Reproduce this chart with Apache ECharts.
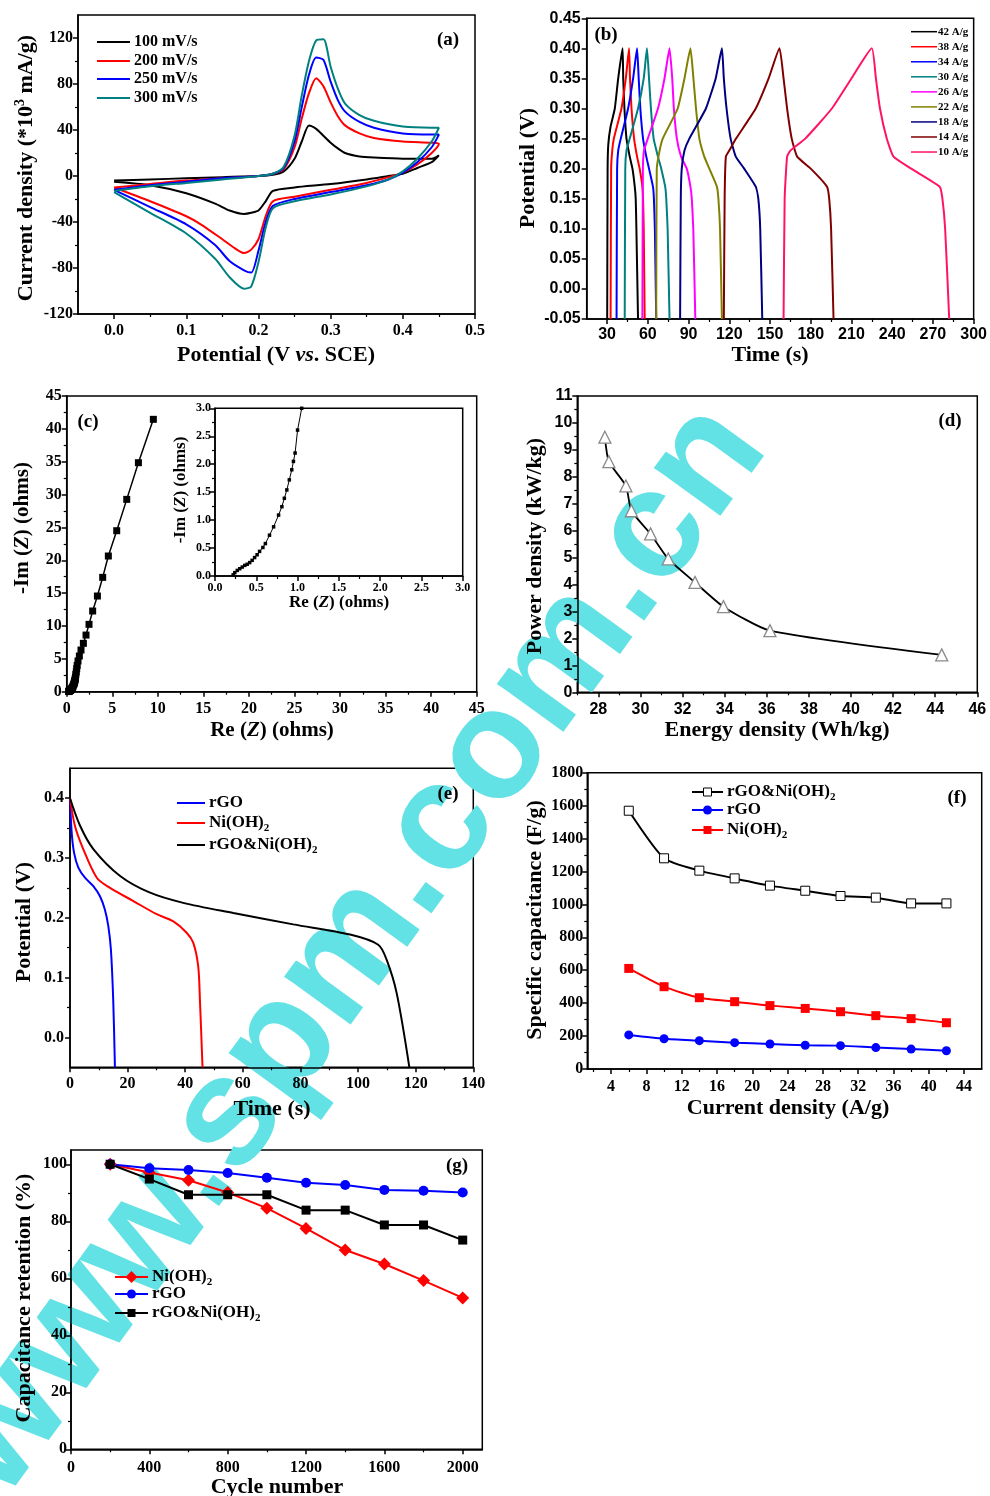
<!DOCTYPE html>
<html><head><meta charset="utf-8">
<script src="https://cdn.jsdelivr.net/npm/echarts@6/dist/echarts.min.js"></script>
<style>html,body{margin:0;padding:0;background:#fff}#c{width:990px;height:1496px}</style>
</head><body><div id="c"></div>
<script>
// ---------------- DATA ----------------
// (a) cyclic voltammetry: [potential V, current density *10^3 mA/g]
const cv100 = [[0,-4],[0.05,-3],[0.1,-2],[0.15,-1],[0.2,0],[0.22,1],[0.235,4],[0.25,15],[0.26,30],[0.27,44],[0.28,41],[0.29,35],[0.3,29],[0.31,24],[0.32,20],[0.34,17],[0.36,16],[0.4,15],[0.44,15],
  [0.45,18],[0.44,12],[0.42,7],[0.4,2],[0.38,0],[0.35,-3],[0.3,-7],[0.25,-10],[0.22,-13],[0.21,-22],[0.2,-30],[0.19,-32],[0.18,-33],[0.16,-30],[0.14,-24],[0.1,-15],[0.05,-8],[0,-5]];
const cv200 = [[0,-10],[0.05,-7],[0.1,-4],[0.15,-2],[0.2,0],[0.22,2],[0.235,6],[0.25,25],[0.26,50],[0.27,72],[0.28,85],[0.29,78],[0.3,64],[0.31,52],[0.32,44],[0.34,37],[0.36,33],[0.4,30],[0.44,29],
  [0.45,28],[0.44,20],[0.42,10],[0.4,3],[0.38,-1],[0.35,-6],[0.3,-12],[0.25,-18],[0.22,-22],[0.21,-35],[0.2,-55],[0.19,-64],[0.18,-67],[0.17,-64],[0.15,-55],[0.12,-42],[0.1,-35],[0.05,-22],[0,-10]];
const cv250 = [[0,-12],[0.05,-8],[0.1,-5],[0.15,-2],[0.2,0],[0.22,2],[0.235,7],[0.25,30],[0.26,60],[0.27,88],[0.28,103],[0.29,101],[0.3,82],[0.31,66],[0.32,56],[0.34,47],[0.36,42],[0.4,37],[0.44,36],
  [0.45,36],[0.44,25],[0.42,12],[0.4,3],[0.38,-3],[0.35,-8],[0.3,-14],[0.25,-20],[0.22,-26],[0.21,-40],[0.2,-65],[0.19,-84],[0.18,-82],[0.16,-74],[0.14,-60],[0.1,-42],[0.05,-27],[0,-12]];
const cv300 = [[0,-13],[0.05,-9],[0.1,-6],[0.15,-3],[0.2,0],[0.22,2],[0.235,8],[0.25,35],[0.26,70],[0.27,100],[0.28,118],[0.29,119],[0.3,95],[0.31,76],[0.32,63],[0.34,53],[0.36,48],[0.4,43],[0.44,42],
  [0.45,42],[0.44,30],[0.42,15],[0.4,4],[0.38,-3],[0.35,-9],[0.3,-16],[0.25,-22],[0.22,-28],[0.21,-45],[0.2,-75],[0.19,-96],[0.18,-98],[0.16,-88],[0.14,-72],[0.1,-50],[0.05,-32],[0,-14]];
const cvLabels = ['100 mV/s','200 mV/s','250 mV/s','300 mV/s'];

// (b) galvanostatic charge/discharge: [time s, potential V]
const gcd42 = [[30.1,-0.05],[30.4,0.20],[30.9,0.24],[32.6,0.27],[35.7,0.30],[38.2,0.35],[41.4,0.40],[41.9,0.35],[42.8,0.30],[44.3,0.25],[46.7,0.22],[48.7,0.20],[50.4,0.17],[51.1,0.15],[51.6,0.10],[52.8,-0.05]];
const gcd38 = [[32.6,-0.05],[33.0,0.20],[33.8,0.23],[35.0,0.25],[40.6,0.30],[43.8,0.35],[46.2,0.40],[46.9,0.35],[48.0,0.30],[49.9,0.25],[52.1,0.22],[54.0,0.20],[56.0,0.17],[56.5,0.15],[57.0,0.10],[57.7,-0.05]];
const gcd34 = [[37.0,-0.05],[37.4,0.20],[38.2,0.23],[40.1,0.25],[45.5,0.30],[49.2,0.35],[52.1,0.40],[53.3,0.35],[54.5,0.30],[56.5,0.25],[58.9,0.22],[60.9,0.20],[63.8,0.17],[64.5,0.15],[65.2,0.10],[66.2,-0.05]];
const gcd30 = [[43.0,-0.05],[43.4,0.20],[44.3,0.23],[46.7,0.25],[52.8,0.30],[57.0,0.35],[59.4,0.40],[60.9,0.35],[62.3,0.30],[64.3,0.25],[67.5,0.22],[69.9,0.20],[72.8,0.17],[73.6,0.15],[74.6,0.10],[76.0,-0.05]];
const gcd26 = [[56.0,-0.05],[56.4,0.20],[57.2,0.23],[60.0,0.25],[67.5,0.30],[72.3,0.35],[76.0,0.40],[78.0,0.35],[79.2,0.30],[81.4,0.25],[84.5,0.22],[88.7,0.20],[91.4,0.17],[92.4,0.15],[93.5,0.10],[95.0,-0.05]];
const gcd22 = [[66.2,-0.05],[66.6,0.20],[68.7,0.23],[71.0,0.25],[82.0,0.30],[87.0,0.35],[91.4,0.40],[93.6,0.35],[95.5,0.30],[98.0,0.25],[101.6,0.22],[105.3,0.20],[110.9,0.17],[112.0,0.15],[113.2,0.10],[114.6,-0.05]];
const gcd18 = [[83.8,-0.05],[84.3,0.15],[85.0,0.20],[87.0,0.23],[90.6,0.25],[102.8,0.30],[110.0,0.35],[114.6,0.40],[116.0,0.35],[118.0,0.30],[121.0,0.25],[124.8,0.22],[131.0,0.20],[139.5,0.17],[141.4,0.15],[142.8,0.10],[144.3,-0.05]];
const gcd14 = [[116.0,-0.05],[116.6,0.15],[117.5,0.22],[120.0,0.23],[125.0,0.25],[139.5,0.30],[149.0,0.35],[157.0,0.40],[160.0,0.35],[162.6,0.30],[166.0,0.25],[170.0,0.22],[180.0,0.20],[192.0,0.17],[193.6,0.15],[195.0,0.10],[196.8,-0.05]];
const gcd10 = [[160.0,-0.05],[160.8,0.15],[162.6,0.22],[165.0,0.23],[176.0,0.25],[195.6,0.30],[210.0,0.35],[225.0,0.40],[228.0,0.35],[231.0,0.30],[236.0,0.25],[241.0,0.22],[254.0,0.20],[275.0,0.17],[277.0,0.15],[279.0,0.10],[282.0,-0.05]];
const gcdLabels = ['42 A/g','38 A/g','34 A/g','30 A/g','26 A/g','22 A/g','18 A/g','14 A/g','10 A/g'];

// (c) Nyquist plot: [Re(Z) ohm, -Im(Z) ohm]
const eis = [[0.22,0.02],[0.24,0.06],[0.27,0.10],[0.30,0.13],[0.33,0.16],[0.36,0.19],[0.39,0.21],[0.42,0.24],[0.45,0.28],[0.48,0.33],[0.51,0.38],[0.54,0.44],[0.58,0.51],[0.61,0.58],[0.66,0.73],[0.71,0.88],[0.77,1.09],[0.81,1.24],[0.84,1.39],[0.87,1.54],[0.90,1.72],[0.93,1.90],[0.95,2.05],[0.97,2.20],[1.00,2.61],[1.05,3.00],[1.10,3.50],[1.15,4.00],[1.24,4.67],[1.39,5.43],[1.57,6.34],[1.83,7.36],[2.12,8.62],[2.45,10.25],[2.85,12.28],[3.37,14.56],[3.95,17.40],[4.57,20.65],[5.49,24.50],[6.59,29.27],[7.87,34.85],[9.51,41.45]];

// (d) Ragone plot
const energyDensity = [28.31,28.50,29.31,29.57,30.48,31.32,32.59,33.94,36.15,44.31];
const powerDensity  = [9.47,8.56,7.66,6.74,5.88,4.95,4.08,3.18,2.29,1.39];

// (e) discharge curves: [time s, potential V]
const disRGO = [[0,0.40],[0.58,0.343],[1.4,0.309],[2.9,0.284],[5.2,0.267],[8.1,0.253],[10.4,0.236],[12.1,0.214],[13.3,0.186],[14.2,0.147],[15.0,0.063],[15.6,-0.05]];
const disNi  = [[0,0.40],[1.7,0.354],[4.6,0.315],[9.3,0.267],[13.9,0.250],[22,0.228],[30.1,0.206],[35.9,0.194],[40.5,0.175],[42.8,0.158],[44.5,0.119],[45.1,0.063],[46.0,-0.05]];
const disComp = [[0,0.40],[3.5,0.354],[8.1,0.315],[17.4,0.270],[27.8,0.242],[39.3,0.225],[56.7,0.208],[77.5,0.189],[97.2,0.172],[107,0.155],[109.9,0.130],[113.4,0.074],[117.8,-0.05]];

// (f) specific capacitance vs current density
const currentDensity = [6,10,14,18,22,26,30,34,38,42];
const capComp = [1569,1280,1205,1158,1114,1083,1051,1041,1006,1006];
const capRGO  = [207,184,172,160,152,144,142,130,121,111];
const capNi   = [611,500,433,409,385,368,348,324,306,281];

// (g) cycling stability
const cycles = [200,400,600,800,1000,1200,1400,1600,1800,2000];
const retNi   = [100,97.1,94.4,90.1,84.6,77.5,69.9,65.0,59.2,53.1];
const retRGO  = [100,98.6,98.0,96.9,95.3,93.5,92.7,91.0,90.7,90.1];
const retComp = [100,94.8,89.3,89.3,89.3,83.9,83.9,78.7,78.7,73.4];

// ---------------- BUILD ----------------
const SERIF = '"Liberation Serif","Times New Roman",serif';
const SANS = '"Liberation Sans",Arial,sans-serif';
const option = {animation:false, backgroundColor:'#fff', grid:[], xAxis:[], yAxis:[], series:[], graphic:[]};

function axis(gi,pos,a,minor){
  const base = {type:'value', gridIndex:gi, position:pos, min:a.min, max:a.max, splitLine:{show:false}, silent:true};
  if (minor) {
    return Object.assign(base,{axisLine:{show:false,onZero:false}, axisLabel:{show:false},
      axisTick:{show:true, customValues:a.minors||[], length:3, lineStyle:{color:'#000',width:1.2}}});
  }
  return Object.assign(base,{
    axisLine:{show:true,onZero:false,lineStyle:{color:'#000',width:1.5}},
    axisTick:{show:true, customValues:a.majors, length:5, lineStyle:{color:'#000',width:1.5}},
    axisLabel:{customValues:a.majors, formatter:a.fmt||(v=>String(v)), color:'#000', fontFamily:a.font||SERIF,
      fontWeight:'bold', fontSize:a.size||16, margin:a.margin!=null?a.margin:6}
  });
}
function panel(g, xa, ya){
  const gi = option.grid.length;
  option.grid.push({left:g[0], top:g[1], width:g[2], height:g[3], show:true, borderColor:'#000', borderWidth:1.5, backgroundColor:'transparent'});
  const xi = option.xAxis.length;
  option.xAxis.push(axis(gi,'bottom',xa,false), axis(gi,'bottom',xa,true));
  const yi = option.yAxis.length;
  option.yAxis.push(axis(gi,'left',ya,false), axis(gi,'left',ya,true));
  return {x:xi, y:yi};
}
function range(a,b,s){const r=[];for(let i=0;a+i*s<=b+1e-9;i++){r.push(+(a+i*s).toFixed(4));}return r;}
function line(p, data, color, extra){
  option.series.push(Object.assign({type:'line', xAxisIndex:p.x, yAxisIndex:p.y, data:data, showSymbol:false,
    lineStyle:{color:color,width:2}, itemStyle:{color:color}, emphasis:{disabled:true}, clip:true, z:3}, extra||{}));
}
function zip(xs,ys){return xs.map((x,i)=>[x,ys[i]]);}

// text helpers
function rs(size, extra){return Object.assign({fontFamily:SERIF,fontWeight:'bold',fontSize:size,fill:'#000'},extra||{});}
function richSet(size){return {n:rs(size), i:rs(size,{fontStyle:'italic'}), s:rs(Math.round(size*0.62),{verticalAlign:'bottom',padding:[0,0,-2,0]}), p:rs(Math.round(size*0.62),{verticalAlign:'top',padding:[-2,0,0,0]})};}
function T(x,y,text,size,opts){
  opts = opts||{};
  option.graphic.push({type:'text', x:x, y:y, rotation:opts.rot||0, z:10, silent:true,
    style:{text:text, x:0, y:0, fill:'#000', fontFamily:opts.font||SERIF, fontWeight:'bold', fontSize:size,
      align:opts.align||'center', verticalAlign:'middle', rich:richSet(size)}});
}
function legendItem(x1,x2,y,color,sym,text,tx,size,lw){
  option.graphic.push({type:'line', z:10, silent:true, shape:{x1:x1,y1:y,x2:x2,y2:y}, style:{stroke:color,lineWidth:lw||2}});
  const cx=(x1+x2)/2;
  if (sym==='circle') option.graphic.push({type:'circle',z:11,silent:true,shape:{cx:cx,cy:y,r:4.5},style:{fill:color}});
  if (sym==='rect') option.graphic.push({type:'rect',z:11,silent:true,shape:{x:cx-4,y:y-4,width:8,height:8},style:{fill:color}});
  if (sym==='orect') option.graphic.push({type:'rect',z:11,silent:true,shape:{x:cx-4,y:y-4,width:8,height:8},style:{fill:'#fff',stroke:color,lineWidth:1}});
  if (sym==='diamond') option.graphic.push({type:'polygon',z:11,silent:true,shape:{points:[[cx,y-6],[cx+6,y],[cx,y+6],[cx-6,y]]},style:{fill:color}});
  T(tx,y,text,size,{align:'left'});
}

// watermark (behind everything)
option.graphic.push({type:'text', x:352, y:950, rotation:54*Math.PI/180, z:0, zlevel:0, silent:true,
  style:{text:'www.spm.com.cn', x:0, y:0, fill:'#62e2e5', fontFamily:SANS, fontWeight:'bold', fontSize:155, align:'center', verticalAlign:'middle'}});

// (a)
const pa = panel([78,15,397,299],
  {min:-0.05,max:0.5,majors:[0,0.1,0.2,0.3,0.4,0.5],minors:[0.05,0.15,0.25,0.35,0.45],fmt:v=>v.toFixed(1),margin:9},
  {min:-120,max:140,majors:[-120,-80,-40,0,40,80,120],minors:[-100,-60,-20,20,60,100],margin:5});
const cvColors = ['#000000','#ff0000','#0000ff','#008080'];
[cv100,cv200,cv250,cv300].forEach((d,i)=>line(pa,d,cvColors[i],{smooth:0.25}));
cvLabels.forEach((l,i)=>legendItem(97,130,[42,61,79,98][i],cvColors[i],null,l,134,16));
T(448,40,'(a)',19);
T(276,355,'{n|Potential (V }{i|vs}{n|. SCE)}',22);
T(26,168,'{n|Current density (*10}{p|3}{n| mA/g)}',22,{rot:Math.PI/2});

// (b)
const pb = panel([586.7,18.3,389.3,300.7],
  {min:15,max:300,majors:range(30,300,30),minors:range(45,285,30),font:SANS,size:16,margin:8},
  {min:-0.05,max:0.45,majors:range(-0.05,0.45,0.05),fmt:v=>v.toFixed(2),font:SANS,size:16,margin:6});
const gcdColors = ['#000000','#ff0000','#0000ff','#008080','#ff00ff','#808000','#000080','#800000','#ff1464'];
[gcd42,gcd38,gcd34,gcd30,gcd26,gcd22,gcd18,gcd14,gcd10].forEach((d,i)=>line(pb,d,gcdColors[i],{smooth:0.15}));
gcdLabels.forEach((l,i)=>legendItem(911,937,31.7+i*15.04,gcdColors[i],null,l,938,11,1.5));
T(606,35,'(b)',19);
T(770,355,'Time (s)',22);
T(528,168,'Potential (V)',22,{rot:Math.PI/2});

// (c) main
const pc = panel([66.7,396,410,295.7],
  {min:0,max:45,majors:range(0,45,5),minors:range(2.5,42.5,5),margin:9},
  {min:0,max:45,majors:range(0,45,5),minors:range(2.5,42.5,5),margin:5});
line(pc,eis,'#000',{showSymbol:true,symbol:'rect',symbolSize:7,lineStyle:{color:'#000',width:1.5}});
T(88,422,'(c)',19);
T(272,731,'{n|Re (}{i|Z}{n|) (ohms)}',21);
T(23,528,'{n|-Im (}{i|Z}{n|) (ohms)}',21,{rot:Math.PI/2});
// (c) inset
const pci = panel([215,408.3,247.7,167.7],
  {min:0,max:3,majors:range(0,3,0.5),minors:range(0.25,2.75,0.5),fmt:v=>v.toFixed(1),size:12,margin:6},
  {min:0,max:3,majors:range(0,3,0.5),minors:range(0.25,2.75,0.5),fmt:v=>v.toFixed(1),size:12,margin:4});
line(pci,eis,'#000',{showSymbol:true,symbol:'rect',symbolSize:3.5,lineStyle:{color:'#000',width:1}});
T(339,603,'{n|Re (}{i|Z}{n|) (ohms)}',17);
T(181,490,'{n|-Im (}{i|Z}{n|) (ohms)}',17,{rot:Math.PI/2});

// (d)
const pd = panel([577.3,396,400,296.3],
  {min:27,max:46,majors:range(28,46,2),minors:range(27,45,2),font:SANS,size:16,margin:9},
  {min:0,max:11,majors:range(0,11,1),minors:range(0.5,10.5,1),font:SANS,size:16,margin:5});
line(pd,zip(energyDensity,powerDensity),'#000',{showSymbol:true,symbol:'triangle',symbolSize:12,
  itemStyle:{color:'#fff',borderColor:'#8a8a8a',borderWidth:1.3},lineStyle:{color:'#000',width:1.8},smooth:0.2});
T(950,421,'(d)',19);
T(777,730,'Energy density (Wh/kg)',22);
T(535,546,'Power density (kW/kg)',22,{rot:Math.PI/2});

// (e)
const pe = panel([70,768.3,403.3,299],
  {min:0,max:140,majors:range(0,140,20),minors:range(10,130,20),margin:9},
  {min:-0.05,max:0.45,majors:[0,0.1,0.2,0.3,0.4],minors:[0.05,0.15,0.25,0.35],fmt:v=>v.toFixed(1),margin:6});
line(pe,disRGO,'#0000ff',{smooth:0.3});
line(pe,disNi,'#ff0000',{smooth:0.3});
line(pe,disComp,'#000000',{smooth:0.3});
legendItem(177,205,803,'#0000ff',null,'rGO',209,17);
legendItem(177,205,823,'#ff0000',null,'{n|Ni(OH)}{s|2}',209,17);
legendItem(177,205,845,'#000000',null,'{n|rGO&Ni(OH)}{s|2}',209,17);
T(448,794,'(e)',19);
T(272,1109,'Time (s)',22);
T(24,922,'Potential (V)',22,{rot:Math.PI/2});

// (f)
const pf = panel([587.3,772.7,394.4,296.3],
  {min:1.3,max:46,majors:range(4,44,4),minors:range(2,42,4),margin:10},
  {min:0,max:1800,majors:range(0,1800,200),minors:range(100,1700,200),margin:4});
line(pf,zip(currentDensity,capComp),'#000',{showSymbol:true,symbol:'rect',symbolSize:9,itemStyle:{color:'#fff',borderColor:'#000',borderWidth:1},smooth:0.2});
line(pf,zip(currentDensity,capRGO),'#0000ff',{showSymbol:true,symbol:'circle',symbolSize:9,smooth:0.2});
line(pf,zip(currentDensity,capNi),'#ff0000',{showSymbol:true,symbol:'rect',symbolSize:9,smooth:0.2});
legendItem(692,723,792,'#000','orect','{n|rGO&Ni(OH)}{s|2}',727,17);
legendItem(692,723,810,'#0000ff','circle','rGO',727,17);
legendItem(692,723,830,'#ff0000','rect','{n|Ni(OH)}{s|2}',727,17);
T(957,798,'(f)',19);
T(788,1108,'Current density (A/g)',22);
T(535,920,'Specific capacitance (F/g)',22,{rot:Math.PI/2});

// (g)
const pg = panel([71,1150,411.3,299.3],
  {min:0,max:2100,majors:range(0,2000,400),minors:range(200,1800,400),margin:11},
  {min:0,max:105,majors:range(0,100,20),minors:range(10,90,20),margin:4});
line(pg,zip(cycles,retNi),'#ff0000',{showSymbol:true,symbol:'diamond',symbolSize:13});
line(pg,zip(cycles,retRGO),'#0000ff',{showSymbol:true,symbol:'circle',symbolSize:10});
line(pg,zip(cycles,retComp),'#000000',{showSymbol:true,symbol:'rect',symbolSize:9});
legendItem(115,148,1277,'#ff0000','diamond','{n|Ni(OH)}{s|2}',152,17);
legendItem(115,148,1294,'#0000ff','circle','rGO',152,17);
legendItem(115,148,1313,'#000000','rect','{n|rGO&Ni(OH)}{s|2}',152,17);
T(457,1166,'(g)',19);
T(277,1487,'Cycle number',22);
T(24,1298,'Capacitance retention (%)',22,{rot:Math.PI/2});

const chart = echarts.init(document.getElementById('c'), null, {renderer:'canvas'});
chart.setOption(option);
</script></body></html>
